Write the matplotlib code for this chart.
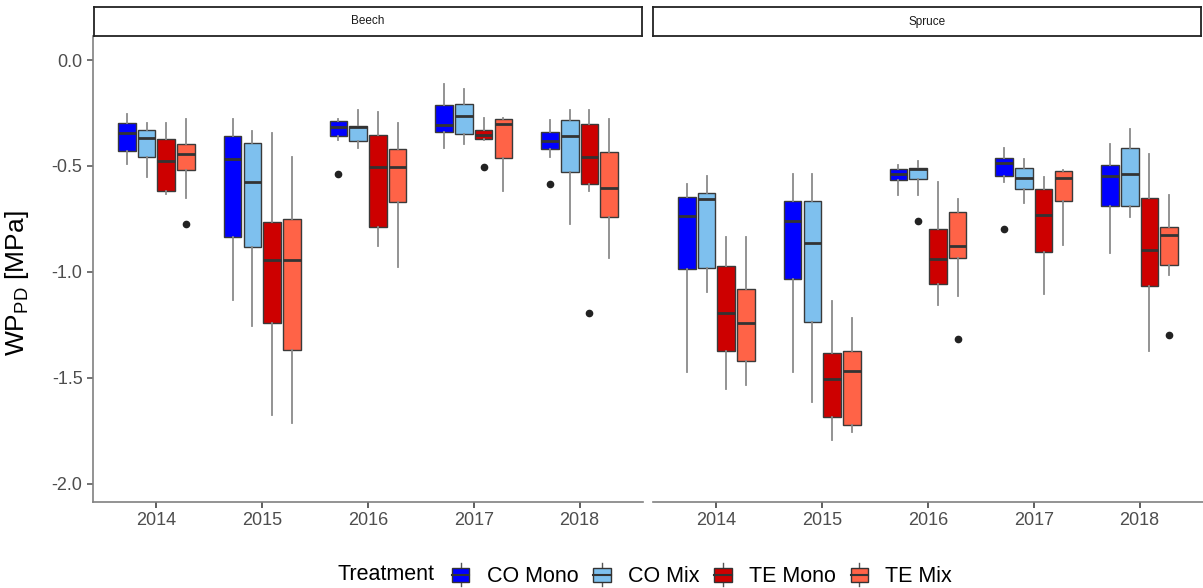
import matplotlib
matplotlib.use("Agg")
import matplotlib.pyplot as plt
from matplotlib.patches import Rectangle, Patch
from matplotlib.lines import Line2D
from matplotlib.legend_handler import HandlerBase

plt.rcParams['font.family'] = ['Liberation Sans', 'DejaVu Sans']
plt.rcParams['mathtext.fontset'] = 'custom'
plt.rcParams['mathtext.rm'] = 'Liberation Sans'

years = ['2014', '2015', '2016', '2017', '2018']
treatments = ['CO Mono', 'CO Mix', 'TE Mono', 'TE Mix']
colors = ['#0000FF', '#7EC0EE', '#CD0000', '#FF6347']
species = ['Beech', 'Spruce']

# rows = treatments, columns = years
beech_hi = [[-0.255, -0.277, -0.277, -0.115, -0.283],
            [-0.299, -0.337, -0.236, -0.135, -0.236],
            [-0.299, -0.346, -0.247, -0.276, -0.236],
            [-0.277, -0.457, -0.299, -0.275, -0.277]]
beech_q3 = [[-0.296, -0.357, -0.288, -0.213, -0.340],
            [-0.331, -0.394, -0.310, -0.208, -0.283],
            [-0.375, -0.763, -0.356, -0.331, -0.304],
            [-0.398, -0.749, -0.420, -0.279, -0.434]]
beech_med = [[-0.346, -0.466, -0.318, -0.307, -0.383],
             [-0.370, -0.578, -0.318, -0.263, -0.360],
             [-0.477, -0.946, -0.507, -0.354, -0.457],
             [-0.445, -0.946, -0.507, -0.302, -0.603]]
beech_q1 = [[-0.428, -0.837, -0.359, -0.340, -0.419],
            [-0.460, -0.882, -0.381, -0.349, -0.529],
            [-0.617, -1.240, -0.787, -0.371, -0.586],
            [-0.519, -1.370, -0.671, -0.464, -0.743]]
beech_lo = [[-0.493, -1.133, -0.378, -0.414, -0.457],
            [-0.554, -1.255, -0.414, -0.397, -0.774],
            [-0.634, -1.677, -0.877, -0.378, -0.617],
            [-0.652, -1.716, -0.976, -0.617, -0.934]]
# (treatment index, year index, value)
beech_out = [(0, 2, -0.538), (0, 4, -0.586), (2, 3, -0.507),
             (2, 4, -1.196), (3, 0, -0.776)]

spruce_hi = [[-0.586, -0.538, -0.496, -0.417, -0.397],
             [-0.546, -0.538, -0.476, -0.468, -0.326],
             [-0.837, -1.137, -0.575, -0.554, -0.446],
             [-0.837, -1.220, -0.656, -0.519, -0.638]]
spruce_q3 = [[-0.645, -0.666, -0.516, -0.464, -0.494],
             [-0.626, -0.666, -0.510, -0.510, -0.417],
             [-0.973, -1.385, -0.797, -0.611, -0.650],
             [-1.083, -1.376, -0.718, -0.526, -0.789]]
spruce_med = [[-0.737, -0.759, -0.538, -0.485, -0.548],
              [-0.655, -0.866, -0.516, -0.557, -0.538],
              [-1.196, -1.507, -0.938, -0.732, -0.897],
              [-1.240, -1.467, -0.878, -0.557, -0.825]]
spruce_q1 = [[-0.985, -1.034, -0.567, -0.546, -0.690],
             [-0.982, -1.236, -0.560, -0.609, -0.688],
             [-1.373, -1.686, -1.056, -0.905, -1.067],
             [-1.423, -1.725, -0.937, -0.667, -0.967]]
spruce_lo = [[-1.475, -1.475, -0.636, -0.575, -0.913],
             [-1.094, -1.617, -0.636, -0.677, -0.743],
             [-1.554, -1.795, -1.157, -1.105, -1.374],
             [-1.536, -1.757, -1.113, -0.874, -1.015]]
spruce_out = [(1, 2, -0.759), (0, 3, -0.798), (3, 2, -1.318), (3, 4, -1.297)]

offsets = [-0.28, -0.093, 0.093, 0.28]
box_w = 0.167
edge = '#3a3a3a'
whisk = '#8a8a8a'


def draw_panel(ax, hi, q3, med, q1, lo, outs):
    for t in range(len(treatments)):
        stats = []
        pos = []
        for y in range(len(years)):
            fl = [v for (ti, yi, v) in outs if ti == t and yi == y]
            stats.append(dict(whislo=lo[t][y], q1=q1[t][y], med=med[t][y],
                              q3=q3[t][y], whishi=hi[t][y], fliers=fl))
            pos.append(y + 1 + offsets[t])
        ax.bxp(stats, positions=pos, widths=box_w, patch_artist=True,
               showcaps=False,
               boxprops=dict(facecolor=colors[t], edgecolor=edge, linewidth=1.0),
               whiskerprops=dict(color=whisk, linewidth=1.3),
               medianprops=dict(color='#333333', linewidth=2.0),
               flierprops=dict(marker='o', markerfacecolor='#222222',
                               markeredgecolor='#222222', markersize=4.5))
    ax.set_xlim(0.4, 5.6)
    ax.set_ylim(-2.087, 0.111)
    ax.set_xticks(range(1, 6))
    ax.set_xticklabels(years)
    for s in ['top', 'right']:
        ax.spines[s].set_visible(False)
    for s in ['left', 'bottom']:
        ax.spines[s].set_color('#808080')
        ax.spines[s].set_linewidth(1.2)
    ax.tick_params(colors='#4d4d4d', labelsize=13, length=4, width=1.1)
    ax.tick_params(axis='x', colors='#333333', labelcolor='#4d4d4d')


class BoxHandler(HandlerBase):
    def create_artists(self, legend, orig_handle, xdescent, ydescent,
                       width, height, fontsize, trans):
        w = width * 0.8
        x0 = -xdescent + (width - w) / 2
        y0 = -ydescent + height * 0.2
        h = height * 0.6
        cx = x0 + w / 2
        wl1 = Line2D([cx, cx], [-ydescent, y0], color='#555555', lw=1, transform=trans)
        wl2 = Line2D([cx, cx], [y0 + h, -ydescent + height], color='#555555', lw=1,
                     transform=trans)
        r = Rectangle((x0, y0), w, h, facecolor=orig_handle.get_facecolor(),
                      edgecolor='#333333', lw=1, transform=trans)
        m = Line2D([x0, x0 + w], [y0 + h / 2, y0 + h / 2], color='#333333', lw=1.5,
                   transform=trans)
        return [wl1, wl2, r, m]


fig = plt.figure(figsize=(12.03, 5.88), dpi=100)
H = 588.0
W = 1203.0
bot = 1 - 502 / H
top = 1 - 36.5 / H
ax1 = fig.add_axes([93 / W, bot, 550 / W, top - bot])
ax2 = fig.add_axes([653 / W, bot, 550 / W, top - bot])

draw_panel(ax1, beech_hi, beech_q3, beech_med, beech_q1, beech_lo, beech_out)
draw_panel(ax2, spruce_hi, spruce_q3, spruce_med, spruce_q1, spruce_lo, spruce_out)

ax1.set_yticks([0, -0.5, -1.0, -1.5, -2.0])
ax1.set_yticklabels(['0.0', '-0.5', '-1.0', '-1.5', '-2.0'])
ax2.set_yticks([])
ax2.spines['left'].set_visible(False)

ax1.set_ylabel(r'WP$_{\mathrm{PD}}$ [MPa]', fontsize=19, color='black')
ax1.yaxis.set_label_coords(-0.112, 0.47)

# facet strips
for x_left, name in [(94, species[0]), (653, species[1])]:
    sax = fig.add_axes([x_left / W, 1 - 36 / H, 548 / W, 29 / H])
    sax.set_xticks([])
    sax.set_yticks([])
    for s in sax.spines.values():
        s.set_linewidth(1.3)
        s.set_color('#222222')
    sax.text(0.5, 0.5, name, ha='center', va='center', fontsize=8.5,
             color='#1a1a1a', transform=sax.transAxes)

# legend
fig.text(338 / W, 1 - 575 / H, 'Treatment', fontsize=15.5, ha='left', va='center')
handles = [Patch(facecolor=c) for c in colors]
fig.legend(handles, treatments, loc='center left',
           bbox_to_anchor=(450 / W, 1 - 575 / H), ncol=4, frameon=False,
           fontsize=15.5, handler_map={Patch: BoxHandler()},
           handlelength=1.0, handleheight=1.3, handletextpad=0.7,
           columnspacing=0.6, borderaxespad=0, borderpad=0)

fig.savefig('out.png', dpi=100)
